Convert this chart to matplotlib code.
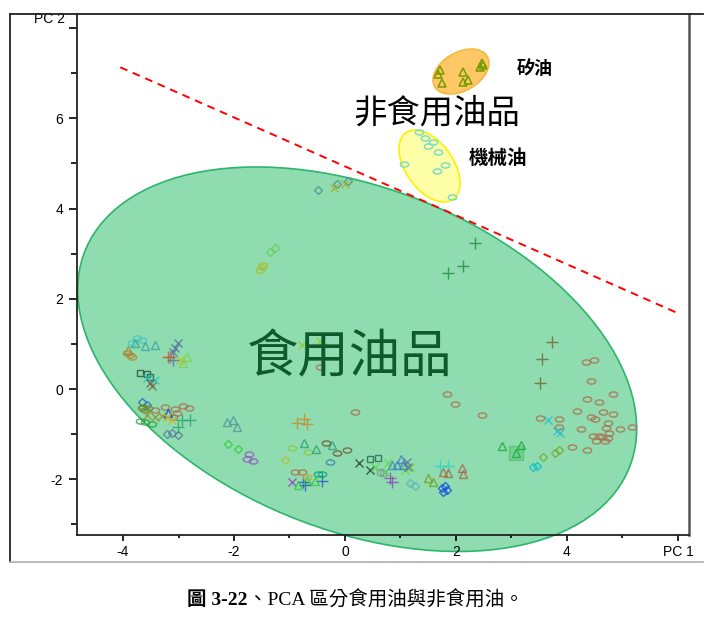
import matplotlib
matplotlib.use("Agg")
import matplotlib.pyplot as plt
from matplotlib.patches import Ellipse
from matplotlib.lines import Line2D
from matplotlib.path import Path
from matplotlib.transforms import Affine2D

# ---- data (PC1, PC2 scores) ----
# 矽油
silicone_x = [1.71, 1.68, 1.75, 2.13, 2.13, 2.22, 2.43, 2.47, 2.49]
silicone_y = [7.07, 6.98, 6.78, 7.02, 6.80, 6.85, 7.13, 7.22, 7.18]
# 機械油
machine_x = [1.33, 1.44, 1.50, 1.59, 1.68, 1.06, 1.66, 1.80, 1.93]
machine_y = [5.69, 5.56, 5.38, 5.47, 5.25, 4.99, 4.83, 4.96, 4.25]

# 食用油 samples
brown_o_x = [-3.42, -3.24, -3.06, -2.92, -2.81, -3.03, -3.10, -0.45, 0.18, 1.84, 1.98, 2.47,
             -0.90, -0.77, 4.34, 4.49, 4.43, 4.83, 4.36, 4.58, 4.18, 4.65, 4.83, 4.43, 4.50,
             4.74, 4.70, 4.95, 5.17, 4.25, 3.86, 3.51, 3.86, 4.47, 4.58, 4.63, 4.76, 4.52,
             4.68, 4.74, 4.09, 4.36]
brown_o_y = [-0.47, -0.40, -0.44, -0.38, -0.42, -0.53, -0.62, 0.49, -0.51, -0.11, -0.33, -0.58,
             -1.84, -1.84, 0.60, 0.64, 0.18, -0.11, -0.22, -0.29, -0.49, -0.51, -0.55, -0.62, -0.66,
             -0.75, -0.86, -0.89, -0.84, -0.89, -0.66, -0.64, -0.84, -1.04, -1.04, -1.06, -0.97, -1.15,
             -1.15, -1.09, -1.29, -1.35]
top_d_x = [-0.49, -0.14, 0.05]
top_d_y = [4.41, 4.54, 4.61]
top_x_x = [-0.20, 0.0]
top_x_y = [4.45, 4.54]
line_p_x = [2.34, 2.13, 1.86]
line_p_y = [3.24, 2.73, 2.57]
lgreen_d_x = [-1.35, -1.26]
lgreen_d_y = [3.04, 3.12]
ygreen_o_x = [-1.50, -1.48, -1.53]
ygreen_o_y = [2.70, 2.75, 2.64]
cyan_o_x = [-3.75, -3.66, -3.84]
cyan_o_y = [1.13, 1.09, 1.02]
teal_t_x = [-3.78, -3.60, -3.42]
teal_t_y = [1.02, 0.95, 0.97]
orange_o_x = [-3.93, -3.84, -3.87]
orange_o_y = [0.80, 0.71, 0.75]
olive_t_x = [-3.91]
olive_t_y = [0.86]
slate_x_x = [-3.01, -3.06, -3.10]
slate_x_y = [1.02, 0.91, 0.82]
red_p_x = [-3.15, -3.19]
red_p_y = [0.71, 0.71]
slate_p_x = [-3.10]
slate_p_y = [0.64]
lgreen_t_x = [-2.85, -2.92]
lgreen_t_y = [0.71, 0.58]
yel_x1_x = [-2.97]
yel_x1_y = [0.64]
dark_s_x = [-3.69, -3.57, -3.51]
dark_s_y = [0.35, 0.33, 0.27]
cyan_x_x = [-3.57, -3.42]
cyan_x_y = [0.24, 0.20]
brown_x_x = [-3.51, -3.48]
brown_x_y = [0.13, 0.07]
blue_d_x = [-3.66, -3.57]
blue_d_y = [-0.29, -0.35]
olive_o_x = [-3.64, -3.55, -3.60, -3.66]
olive_o_y = [-0.40, -0.42, -0.47, -0.42]
blue_t_x = [-3.19]
blue_t_y = [-0.53]
green_o_x = [-3.69, -3.60, -3.48]
green_o_y = [-0.71, -0.73, -0.78]
olive_x_x = [-3.57, -3.42, -3.30]
olive_x_y = [-0.58, -0.62, -0.60]
yel_x2_x = [-3.21, -3.12]
yel_x2_y = [-0.62, -0.69]
teal_p_x = [-2.94, -2.79, -3.01]
teal_p_y = [-0.69, -0.69, -0.84]
slate_d_x = [-3.21, -3.12, -3.01]
slate_d_y = [-1.00, -0.97, -1.02]
teal_t2_x = [-2.13, -2.02, -1.95]
teal_t2_y = [-0.73, -0.69, -0.84]
green_d_x = [-2.11, -1.93]
green_d_y = [-1.22, -1.33]
purple_o_x = [-1.73, -1.77, -1.66]
purple_o_y = [-1.44, -1.55, -1.60]
orange_p_x = [-0.86, -0.74, -0.68]
orange_p_y = [-0.75, -0.66, -0.78]
olive_d_x = [-1.08]
olive_d_y = [-1.57]
lgreen_o_x = [-0.95, -0.67]
lgreen_o_y = [-1.31, -1.40]
teal_t3_x = [-0.74, -0.52, -0.23]
teal_t3_y = [-1.20, -1.33, -1.24]
dbrown_o_x = [-0.34, -0.14, 0.04]
dbrown_o_y = [-1.20, -1.42, -1.35]
blue_o_x = [-0.27]
blue_o_y = [-1.62]
purple_x_x = [-0.95]
purple_x_y = [-2.06]
blue_p_x = [-0.76, -0.41, -0.72]
blue_p_y = [-2.06, -2.04, -2.13]
green_t_x = [-0.85, -0.68, -0.54]
green_t_y = [-2.13, -2.02, -2.04]
teal_o_x = [-0.49, -0.41]
teal_o_y = [-1.88, -1.88]
gold_o_x = [-0.68]
gold_o_y = [-1.95]
dark_x_x = [0.25, 0.45]
dark_x_y = [-1.64, -1.79]
dteal_s_x = [0.45, 0.59]
dteal_s_y = [-1.55, -1.53]
lgreen_x_x = [0.54, 0.77, 0.72, 1.08, 1.17]
lgreen_x_y = [-1.73, -1.64, -1.84, -1.79, -1.73]
grey_s_x = [0.63, 0.68]
grey_s_y = [-1.84, -1.86]
blue_t2_x = [0.85, 0.94, 1.01, 1.05]
blue_t2_y = [-1.68, -1.68, -1.55, -1.68]
slate_x2_x = [1.12, 1.14]
slate_x2_y = [-1.62, -1.73]
purple_p_x = [0.81, 0.85]
purple_p_y = [-1.97, -2.06]
teal_d_x = [1.17, 1.26]
teal_d_y = [-2.08, -2.15]
cyan_p_x = [1.71, 1.86]
cyan_p_y = [-1.71, -1.71]
brown_t_x = [1.77, 1.86, 2.11, 2.13]
brown_t_y = [-1.84, -1.86, -1.75, -1.88]
olive_t2_x = [1.50, 1.59]
olive_t2_y = [-1.97, -2.06]
blue_d2_x = [1.75, 1.80, 1.77, 1.84]
blue_d2_y = [-2.19, -2.15, -2.28, -2.24]
ygreen_x_x = [-0.77, -0.45]
ygreen_x_y = [0.97, 1.06]
olive_p_x = [3.73, 3.55, 3.51]
olive_p_y = [1.04, 0.66, 0.13]
cyan_x2_x = [3.66, 3.82, 3.87]
cyan_x2_y = [-0.69, -0.93, -0.97]
green_t2_x = [2.83, 3.17, 3.08]
green_t2_y = [-1.26, -1.24, -1.42]
box_s_x = [3.08]
box_s_y = [-1.42]
olive_d2_x = [3.57, 3.78, 3.86]
olive_d2_y = [-1.51, -1.42, -1.35]
cyan_d_x = [3.39, 3.46]
cyan_d_y = [-1.73, -1.71]

# dividing line
split_x = [-4.05, 6.0]
split_y = [7.13, 1.68]

# flat open circle used by the original software
oval = Path.unit_circle().transformed(Affine2D().scale(1.0, 0.62))

groups = [
    (brown_o_x, brown_o_y, oval, '#b06a4a'),
    (top_d_x, top_d_y, 'D', '#4f8c8c'),
    (top_x_x, top_x_y, 'x', '#b0b020'),
    (line_p_x, line_p_y, '+', '#1e8c3c'),
    (lgreen_d_x, lgreen_d_y, 'D', '#66d055'),
    (ygreen_o_x, ygreen_o_y, oval, '#a8bf28'),
    (cyan_o_x, cyan_o_y, oval, '#3cc8c8'),
    (teal_t_x, teal_t_y, '^', '#3ca0a0'),
    (orange_o_x, orange_o_y, oval, '#be8228'),
    (olive_t_x, olive_t_y, '^', '#8c8c3c'),
    (slate_x_x, slate_x_y, 'x', '#506ea0'),
    (red_p_x, red_p_y, '+', '#c85a3c'),
    (slate_p_x, slate_p_y, '+', '#50709a'),
    (lgreen_t_x, lgreen_t_y, '^', '#7cd24a'),
    (yel_x1_x, yel_x1_y, 'x', '#bebe28'),
    (dark_s_x, dark_s_y, 's', '#1e5032'),
    (cyan_x_x, cyan_x_y, 'x', '#1ec8c8'),
    (brown_x_x, brown_x_y, 'x', '#786048'),
    (blue_d_x, blue_d_y, 'D', '#2864c8'),
    (olive_o_x, olive_o_y, oval, '#6e8c28'),
    (blue_t_x, blue_t_y, '^', '#003cc8'),
    (green_o_x, green_o_y, oval, '#28a03c'),
    (olive_x_x, olive_x_y, 'x', '#968c32'),
    (yel_x2_x, yel_x2_y, 'x', '#c8be28'),
    (teal_p_x, teal_p_y, '+', '#28a06e'),
    (slate_d_x, slate_d_y, 'D', '#5a78a0'),
    (teal_t2_x, teal_t2_y, '^', '#509696'),
    (green_d_x, green_d_y, 'D', '#28d228'),
    (purple_o_x, purple_o_y, oval, '#9650c8'),
    (orange_p_x, orange_p_y, '+', '#c88c28'),
    (olive_d_x, olive_d_y, 'D', '#bebe28'),
    (lgreen_o_x, lgreen_o_y, oval, '#8cc83c'),
    (teal_t3_x, teal_t3_y, '^', '#28a078'),
    (dbrown_o_x, dbrown_o_y, oval, '#6e5032'),
    (blue_o_x, blue_o_y, oval, '#3c78b4'),
    (purple_x_x, purple_x_y, 'x', '#963cc8'),
    (blue_p_x, blue_p_y, '+', '#2850dc'),
    (green_t_x, green_t_y, '^', '#3cc83c'),
    (teal_o_x, teal_o_y, oval, '#00a078'),
    (gold_o_x, gold_o_y, oval, '#c8aa28'),
    (dark_x_x, dark_x_y, 'x', '#283c32'),
    (dteal_s_x, dteal_s_y, 's', '#286450'),
    (lgreen_x_x, lgreen_x_y, 'x', '#5adc3c'),
    (grey_s_x, grey_s_y, 's', '#78a096'),
    (blue_t2_x, blue_t2_y, '^', '#3c82c8'),
    (slate_x2_x, slate_x2_y, 'x', '#646ea0'),
    (purple_p_x, purple_p_y, '+', '#8c46b4'),
    (teal_d_x, teal_d_y, 'D', '#5ab4b4'),
    (cyan_p_x, cyan_p_y, '+', '#28d2c8'),
    (brown_t_x, brown_t_y, '^', '#aa6446'),
    (olive_t2_x, olive_t2_y, '^', '#6ea01e'),
    (blue_d2_x, blue_d2_y, 'D', '#1450dc'),
    (ygreen_x_x, ygreen_x_y, 'x', '#96c828'),
    (olive_p_x, olive_p_y, '+', '#6e6428'),
    (cyan_x2_x, cyan_x2_y, 'x', '#28bec8'),
    (green_t2_x, green_t2_y, '^', '#14aa3c'),
    (olive_d2_x, olive_d2_y, 'D', '#78aa28'),
    (cyan_d_x, cyan_d_y, 'D', '#00bec8'),
]

sizes = {'o': 6, '^': 5.5, 'D': 4.5, 's': 5, '+': 8, 'x': 6}

fig = plt.figure(figsize=(7.12, 6.17), dpi=100)
ax = fig.add_axes([0.1081, 0.1329, 0.8596, 0.8444])
ax.set_xlim(-4.83, 6.2)
ax.set_ylim(-3.235, 8.31)

# group ellipses
ax.add_patch(Ellipse((0.22, 0.66), 11.01, 7.27, angle=-32.5, facecolor='#8fdcb0',
                     edgecolor='#2bb66a', lw=1.2, zorder=1, clip_on=False))
ax.add_patch(Ellipse((1.523, 4.941), 1.715, 0.901, angle=-64.4, facecolor='#ffffa8',
                     edgecolor='#fff000', lw=1.2, zorder=1))
ax.add_patch(Ellipse((2.09, 7.035), 1.177, 0.791, angle=44.1, facecolor='#fdc865',
                     edgecolor='#f5b840', lw=1.2, zorder=1))

ax.plot(split_x, split_y, color='red', ls=(0, (4, 3)), lw=1.4, zorder=3)

for xs, ys, m, c in groups:
    key = 'o' if isinstance(m, Path) else m
    ax.plot(xs, ys, ls='none', marker=m, ms=sizes[key], mfc='none', mec=c, mew=1.0,
            alpha=0.8, zorder=2)
ax.plot(box_s_x, box_s_y, ls='none', marker='s', ms=10, mfc='#6ccf86', mec='#5cc078',
        alpha=0.8, zorder=1.5)
ax.plot(silicone_x, silicone_y, ls='none', marker='^', ms=5.5, mfc='none', mec='#7a9a00',
        mew=1.1, zorder=2)
ax.plot(machine_x, machine_y, ls='none', marker=oval, ms=6, mfc='none', mec='#6fdcc8',
        mew=1.0, zorder=2)

# labels
cjk = ['Noto Sans CJK TC', 'DejaVu Sans']
ax.text(1.66, 6.12, '非食用油品', fontsize=24, family=cjk, ha='center', va='center', zorder=4)
ax.text(3.42, 7.11, '矽油', fontsize=13, family=cjk, ha='center', va='center',
        fontweight='bold', zorder=4)
ax.text(2.76, 5.10, '機械油', fontsize=14, family=cjk, ha='center', va='center',
        fontweight='bold', zorder=4)
ax.text(0.09, 0.69, '食用油品', fontsize=37, family=cjk, color='#0e5a2a',
        ha='center', va='center', zorder=4)

# axes styling
for s in ['left', 'bottom']:
    ax.spines[s].set_color('#222222')
    ax.spines[s].set_linewidth(1.3)
ax.spines['right'].set_color('#555555')
ax.spines['right'].set_linewidth(1.8)
ax.spines['top'].set_visible(False)

ax.set_xticks([-4, -2, 0, 2, 4, 6])
ax.set_xticklabels(['-4', '-2', '0', '2', '4', 'PC 1'])
ax.set_xticks([-3, -1, 1, 3, 5], minor=True)
ax.set_yticks([-2, 0, 2, 4, 6, 8])
ax.set_yticklabels(['-2', '0', '2', '4', '6', ''])
ax.set_yticks([-3, -1, 1, 3, 5, 7], minor=True)
ax.tick_params(axis='x', which='major', length=4, width=1.2, pad=3, labelsize=10)
ax.tick_params(axis='x', which='minor', length=2.5, width=1.2)
ax.tick_params(axis='y', which='major', length=6, width=1.2, pad=4, labelsize=10)
ax.tick_params(axis='y', which='minor', length=4, width=1.2)
for lab in ax.get_xticklabels() + ax.get_yticklabels():
    lab.set_family('Liberation Sans')
ax.text(-0.02, 8.2, 'PC 2', transform=ax.get_yaxis_transform(), ha='right', va='center',
        fontsize=10, family='Liberation Sans')

# outer frame
fig.add_artist(Line2D([0.014, 0.014], [0.0891, 0.9773], color='#222222', lw=1.3))
fig.add_artist(Line2D([0.014, 0.987], [0.9773, 0.9773], color='#222222', lw=1.3))
fig.add_artist(Line2D([0.014, 0.987], [0.0891, 0.0891], color='#b4b4b4', lw=1.3))

# caption
serif = ['Liberation Serif', 'Noto Sans CJK TC']
fig.text(0.348, 0.028, '圖 3-22', fontsize=14, family=serif, fontweight='bold',
         ha='right', va='center')
fig.text(0.348, 0.028, '、PCA 區分食用油與非食用油。', fontsize=14, family=serif,
         ha='left', va='center')

fig.savefig('out.png', dpi=100)
